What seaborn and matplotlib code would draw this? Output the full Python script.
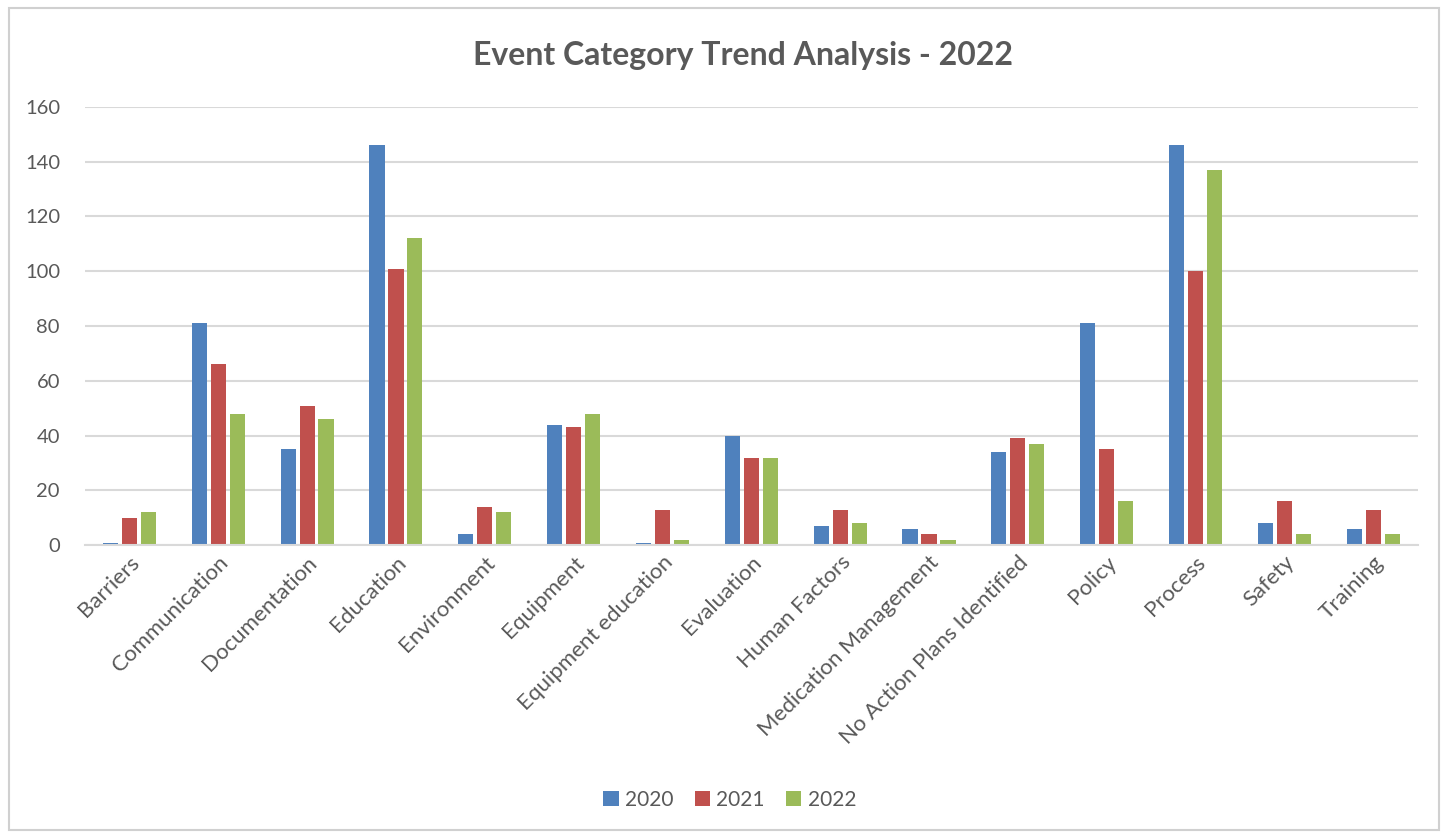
import matplotlib
matplotlib.use("Agg")
import matplotlib.pyplot as plt
import pandas as pd
import seaborn as sns
from matplotlib.patches import Rectangle

categories = ["Barriers", "Communication", "Documentation", "Education", "Environment",
              "Equipment", "Equipment education", "Evaluation", "Human Factors",
              "Medication Management", "No Action Plans Identified", "Policy",
              "Process", "Safety", "Training"]
years = ["2020", "2021", "2022"]
values_2020 = [1, 81, 35, 146, 4, 44, 1, 40, 7, 6, 34, 81, 146, 8, 6]
values_2021 = [10, 66, 51, 101, 14, 43, 13, 32, 13, 4, 39, 35, 100, 16, 13]
values_2022 = [12, 48, 46, 112, 12, 48, 2, 32, 8, 2, 37, 16, 137, 4, 4]
y_ticks = [0, 20, 40, 60, 80, 100, 120, 140, 160]
colors = ["#4F81BD", "#C0504D", "#9BBB59"]

df = pd.DataFrame({
    "Category": categories * 3,
    "Year": [y for y in years for _ in categories],
    "Count": values_2020 + values_2021 + values_2022,
})

sns.set_theme(style="white")
plt.rcParams["font.family"] = ["Lato", "DejaVu Sans"]
text_color = "#595959"

fig = plt.figure(figsize=(14.48, 8.35), dpi=100)
fig.patches.append(Rectangle((0.006, 0.006), 0.988, 0.984, transform=fig.transFigure,
                             fill=False, edgecolor="#D0D0D0", linewidth=1.5))
ax = fig.add_axes([0.0587, 0.347, 0.9203, 0.525])

sns.barplot(data=df, x="Category", y="Count", hue="Year", order=categories,
            hue_order=years, palette=colors, width=0.64, gap=0.2,
            saturation=1, linewidth=0, ax=ax, legend=True)

ax.set_ylim(0, 160)
ax.set_yticks(y_ticks)
ax.set_xlim(-0.5, len(categories) - 0.5)
ax.yaxis.grid(True, color="#D9D9D9", linewidth=1.5)
ax.set_axisbelow(True)
for s in ["top", "right", "left"]:
    ax.spines[s].set_visible(False)
ax.spines["bottom"].set_color("#D9D9D9")
ax.spines["bottom"].set_linewidth(1.5)
ax.set_xlabel("")
ax.set_ylabel("")
ax.tick_params(axis="y", colors=text_color, labelsize=14.5, length=0, pad=18)
ax.tick_params(axis="x", colors=text_color, labelsize=16, length=0, pad=5)
plt.setp(ax.get_xticklabels(), rotation=45, ha="right", rotation_mode="anchor")

fig.text(0.513, 0.933, "Event Category Trend Analysis - 2022", ha="center", va="center",
         fontsize=23, fontweight="bold", color=text_color)

handles, labels = ax.get_legend_handles_labels()
ax.get_legend().remove()
fig.legend(handles, labels, loc="center", bbox_to_anchor=(0.504, 0.042), ncol=3,
           frameon=False, fontsize=15, labelcolor=text_color, handlelength=0.75,
           handleheight=0.75, handletextpad=0.3, columnspacing=1.0)

fig.savefig("out.png", dpi=100, facecolor="white")
